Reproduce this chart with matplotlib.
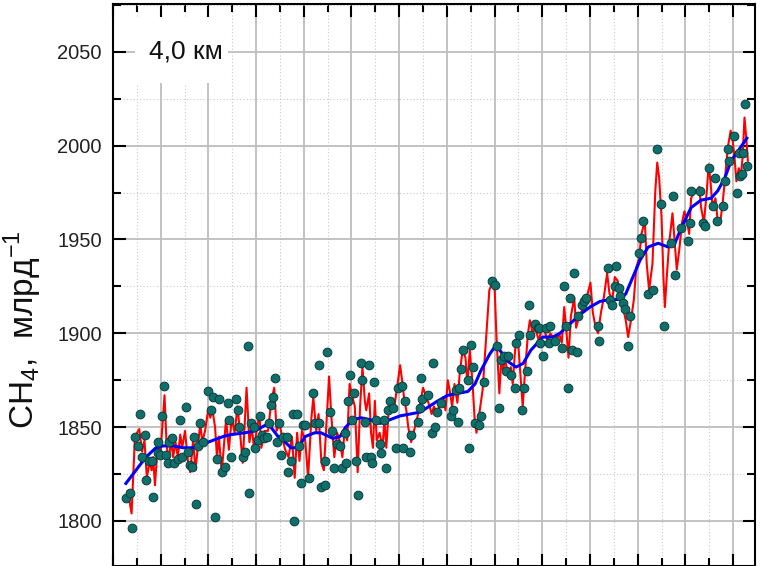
import matplotlib.pyplot as plt
from matplotlib.ticker import MultipleLocator
from matplotlib.patches import Rectangle

plt.rcParams['font.family'] = ['Liberation Sans', 'DejaVu Sans']
plt.rcParams['mathtext.fontset'] = 'custom'
plt.rcParams['mathtext.rm'] = 'Liberation Sans'

# time axis: years since start of record (no tick labels shown on the chart)
dots_t = [0.27, 0.36, 0.40, 0.46, 0.52, 0.57, 0.61, 0.67, 0.69, 0.75, 0.82, 0.84, 0.94, 0.94,
          0.99, 1.03, 1.07, 1.11, 1.15, 1.17, 1.24, 1.28, 1.36, 1.40, 1.45, 1.53, 1.57, 1.61,
          1.66, 1.70, 1.74, 1.78, 1.82, 1.89, 1.99, 2.05, 2.10, 2.14, 2.18, 2.22, 2.29, 2.35,
          2.41, 2.43, 2.47, 2.58, 2.62, 2.64, 2.73, 2.77, 2.83, 2.85, 2.89, 2.96, 2.98, 3.04,
          3.08, 3.12, 3.17, 3.23, 3.27, 3.31, 3.35, 3.40, 3.44, 3.48, 3.52, 3.56, 3.65, 3.67,
          3.73, 3.77, 3.79, 3.86, 3.90, 3.94, 3.98, 4.03, 4.11, 4.19, 4.23, 4.32, 4.32, 4.36,
          4.44, 4.44, 4.49, 4.55, 4.59, 4.63, 4.70, 4.76, 4.80, 4.86, 4.88, 4.93, 4.97, 5.01,
          5.05, 5.09, 5.14, 5.20, 5.22, 5.28, 5.30, 5.37, 5.41, 5.43, 5.47, 5.51, 5.60, 5.62,
          5.68, 5.72, 5.77, 5.81, 5.87, 5.93, 5.97, 6.06, 6.08, 6.12, 6.23, 6.25, 6.39, 6.44,
          6.46, 6.48, 6.60, 6.69, 6.71, 6.75, 6.79, 6.88, 7.09, 7.13, 7.19, 7.23, 7.25, 7.30,
          7.34, 7.44, 7.46, 7.51, 7.55, 7.59, 7.67, 7.71, 7.78, 7.95, 8.01, 8.05, 8.09, 8.13,
          8.20, 8.24, 8.28, 8.34, 8.43, 8.45, 8.51, 8.57, 8.62, 8.68, 8.72, 8.74, 8.85, 8.91,
          8.93, 8.95, 9.01, 9.08, 9.14, 9.16, 9.27, 9.41, 9.45, 9.50, 9.54, 9.58, 9.62, 9.66,
          9.73, 9.75, 9.83, 9.87, 9.92, 10.17, 10.19, 10.38, 10.42, 10.46, 10.52, 10.55, 10.61,
          10.63, 10.69, 10.73, 10.80, 10.84, 11.03, 11.07, 11.11, 11.22, 11.32, 11.40, 11.49,
          11.55, 11.70, 11.74, 11.78, 11.91, 12.05, 12.10, 12.12, 12.31, 12.37, 12.41, 12.49,
          12.58, 12.62, 12.66, 12.79, 12.83, 12.89, 12.91, 13.02, 13.08, 13.12, 13.14, 13.19,
          13.21, 13.25, 13.29]
dots_v = [1812, 1815, 1796, 1845, 1840, 1857, 1834, 1846, 1822, 1832, 1832, 1813, 1842, 1836,
          1835, 1856, 1872, 1835, 1831, 1842, 1844, 1831, 1833, 1854, 1834, 1861, 1837, 1830,
          1829, 1845, 1809, 1840, 1852, 1842, 1869, 1859, 1866, 1802, 1833, 1865, 1826, 1829,
          1863, 1854, 1834, 1865, 1859, 1850, 1834, 1837, 1893, 1815, 1852, 1850, 1839, 1843,
          1856, 1846, 1844, 1845, 1852, 1862, 1866, 1876, 1842, 1852, 1835, 1845, 1845, 1826,
          1832, 1857, 1800, 1857, 1840, 1820, 1851, 1851, 1823, 1868, 1852, 1883, 1852, 1818,
          1819, 1832, 1890, 1858, 1848, 1828, 1841, 1840, 1828, 1847, 1831, 1864, 1878, 1854,
          1868, 1832, 1814, 1884, 1875, 1853, 1834, 1883, 1834, 1831, 1874, 1854, 1841, 1836,
          1854, 1828, 1859, 1864, 1860, 1839, 1871, 1872, 1839, 1864, 1837, 1846, 1853, 1860,
          1876, 1865, 1867, 1847, 1884, 1850, 1858, 1863, 1856, 1859, 1870, 1853, 1871, 1881,
          1891, 1875, 1839, 1894, 1882, 1852, 1851, 1856, 1874, 1928, 1926, 1893, 1860, 1886,
          1888, 1880, 1888, 1878, 1871, 1895, 1899, 1859, 1871, 1880, 1915, 1899, 1905, 1903,
          1903, 1895, 1888, 1903, 1895, 1904, 1896, 1892, 1925, 1904, 1871, 1919, 1891, 1932,
          1890, 1909, 1915, 1917, 1919, 1904, 1896, 1935, 1918, 1915, 1925, 1936, 1924,
          1920, 1916, 1913, 1893, 1909, 1943, 1951, 1960, 1921, 1923, 1998, 1969,
          1904, 1948, 1973, 1931, 1956, 1949, 1959, 1976, 1976, 1959, 1957, 1988,
          1968, 1983, 1960, 1968, 1981, 1998, 1992, 2005, 1975, 1996, 1984, 1985,
          1996, 2022, 1989]

red_t = [0.31, 0.39, 0.46, 0.55, 0.61, 0.66, 0.71, 0.77, 0.81, 0.84, 0.88, 0.94, 0.99, 1.08,
         1.12, 1.16, 1.22, 1.26, 1.31, 1.36, 1.41, 1.45, 1.51, 1.57, 1.62, 1.68, 1.73, 1.80,
         1.83, 1.87, 1.93, 2.00, 2.04, 2.08, 2.14, 2.18, 2.22, 2.28, 2.37, 2.43, 2.49, 2.55,
         2.61, 2.66, 2.72, 2.80, 2.86, 2.91, 2.96, 3.01, 3.07, 3.11, 3.18, 3.25, 3.32, 3.38,
         3.43, 3.49, 3.56, 3.61, 3.68, 3.75, 3.81, 3.86, 3.91, 3.96, 4.03, 4.09, 4.16, 4.20,
         4.26, 4.31, 4.37, 4.42, 4.50, 4.53, 4.58, 4.64, 4.70, 4.75, 4.81, 4.86, 4.91, 4.96,
         5.02, 5.07, 5.13, 5.18, 5.23, 5.28, 5.31, 5.37, 5.41, 5.45, 5.49, 5.53, 5.59, 5.65,
         5.69, 5.73, 5.79, 5.84, 5.90, 5.95, 6.02, 6.06, 6.11, 6.15, 6.19, 6.25, 6.30, 6.37,
         6.43, 6.50, 6.57, 6.64, 6.68, 6.73, 6.79, 6.86, 6.92, 6.97, 7.02, 7.07, 7.11, 7.16,
         7.22, 7.27, 7.33, 7.39, 7.43, 7.48, 7.54, 7.58, 7.62, 7.69, 7.75, 7.83, 7.89, 7.95,
         8.00, 8.04, 8.10, 8.14, 8.18, 8.22, 8.28, 8.34, 8.38, 8.43, 8.48, 8.53, 8.59, 8.64,
         8.70, 8.74, 8.80, 8.85, 8.93, 8.99, 9.04, 9.11, 9.17, 9.22, 9.28, 9.35, 9.41, 9.46,
         9.50, 9.55, 9.60, 9.67, 9.71, 9.77, 9.83, 9.90, 9.95, 10.01, 10.06, 10.12, 10.17,
         10.23, 10.29, 10.36, 10.41, 10.47, 10.52, 10.58, 10.63, 10.69, 10.75, 10.80, 10.86,
         10.92, 10.97, 11.03, 11.08, 11.15, 11.19, 11.24, 11.31, 11.37, 11.41, 11.45, 11.50,
         11.54, 11.57, 11.61, 11.66, 11.73, 11.77, 11.82, 11.87, 11.93, 11.98, 12.04, 12.08,
         12.12, 12.18, 12.24, 12.29, 12.33, 12.39, 12.45, 12.49, 12.53, 12.57, 12.63, 12.67,
         12.73, 12.78, 12.84, 12.89, 12.95, 12.99, 13.03, 13.07, 13.12, 13.16, 13.20, 13.24,
         13.28, 13.31]
red_v = [1816, 1804, 1845, 1849, 1837, 1843, 1823, 1832, 1827, 1834, 1819, 1842, 1834, 1867,
         1843, 1831, 1843, 1834, 1842, 1834, 1846, 1839, 1848, 1832, 1826, 1843, 1827, 1845,
         1852, 1842, 1848, 1860, 1855, 1860, 1850, 1834, 1845, 1826, 1854, 1838, 1855, 1847,
         1861, 1848, 1831, 1871, 1842, 1850, 1838, 1848, 1857, 1839, 1848, 1848, 1864, 1871,
         1848, 1852, 1843, 1838, 1834, 1845, 1823, 1847, 1832, 1848, 1843, 1823, 1855, 1866,
         1848, 1857, 1831, 1827, 1864, 1877, 1855, 1834, 1847, 1843, 1834, 1850, 1843, 1873,
         1866, 1861, 1826, 1861, 1882, 1864, 1859, 1868, 1847, 1839, 1864, 1843, 1847, 1839,
         1854, 1839, 1863, 1859, 1861, 1870, 1883, 1875, 1864, 1859, 1850, 1842, 1847, 1854,
         1861, 1871, 1866, 1861, 1857, 1861, 1857, 1863, 1866, 1859, 1875, 1868, 1861, 1873,
         1863, 1879, 1891, 1887, 1873, 1891, 1873, 1855, 1847, 1859, 1870, 1900, 1923, 1927,
         1925, 1898, 1868, 1886, 1880, 1887, 1877, 1882, 1873, 1891, 1900, 1882, 1861, 1880,
         1900, 1907, 1900, 1903, 1896, 1903, 1902, 1896, 1900, 1898, 1895, 1900, 1895, 1914,
         1903, 1887, 1909, 1919, 1903, 1909, 1912, 1918, 1921, 1927, 1911, 1903, 1900,
         1911, 1919, 1932, 1921, 1918, 1930, 1928, 1921, 1914, 1907, 1898, 1907,
         1918, 1935, 1940, 1953, 1960, 1937, 1923, 1937, 1976, 1991, 1983, 1962,
         1930, 1914, 1930, 1948, 1964, 1951, 1934, 1944, 1959, 1965, 1959, 1953,
         1972, 1975, 1976, 1978, 1967, 1959, 1976, 1990, 1980, 1967, 1972, 1962,
         1959, 1969, 1985, 1999, 2008, 2003, 1994, 1981, 1988, 1983, 1994, 2015,
         2003, 1992]

blue_t = [0.27, 0.48, 0.69, 0.90, 1.05, 1.26, 1.47, 1.68, 1.89, 2.10, 2.31, 2.47, 2.77, 2.98,
          3.19, 3.31, 3.46, 3.61, 3.73, 3.88, 4.03, 4.23, 4.36, 4.61, 4.76, 4.88, 5.03, 5.20,
          5.39, 5.60, 5.81, 6.02, 6.23, 6.44, 6.81, 7.02, 7.23, 7.44, 7.59, 7.71, 7.90, 8.01,
          8.11, 8.28, 8.45, 8.60, 8.76, 9.01, 9.22, 9.37, 9.58, 9.79, 10.00, 10.21, 10.42,
          10.63, 10.75, 10.90, 11.05, 11.22, 11.43, 11.64, 11.78, 11.91, 12.12, 12.33, 12.54,
          12.68, 12.83, 12.96, 13.10, 13.29]
blue_v = [1820, 1827, 1834, 1839, 1840, 1840, 1839, 1839, 1841, 1843, 1845, 1846, 1847, 1848,
          1851, 1850, 1845, 1842, 1839, 1839, 1845, 1847, 1847, 1844, 1845, 1850, 1854, 1855,
          1854, 1852, 1854, 1856, 1857, 1858, 1864, 1867, 1868, 1869, 1873, 1880, 1889, 1893,
          1891, 1885, 1882, 1884, 1891, 1898, 1898, 1900, 1905, 1910, 1914, 1917, 1918,
          1918, 1921, 1930, 1939, 1946, 1948, 1946, 1948, 1956, 1967, 1971, 1972,
          1976, 1983, 1992, 1997, 2004]

fig = plt.figure(figsize=(7.67, 5.66), dpi=100)
ax = fig.add_axes([113 / 767, 0.0, 642 / 767, 562 / 566])

ax.plot(red_t, red_v, color='#ff0000', lw=1.5, zorder=3)
ax.plot(blue_t, blue_v, color='#0000ff', lw=2.2, zorder=4)
ax.plot(dots_t, dots_v, 'o', ms=6.3, mfc='#0f6f6a', mec='#0a3d3d', mew=0.7, zorder=5)

ax.set_xlim(0, 13.46)
ax.set_ylim(1776, 2075.5)
ax.xaxis.set_major_locator(MultipleLocator(1))
ax.xaxis.set_minor_locator(MultipleLocator(0.5))
ax.yaxis.set_major_locator(MultipleLocator(50))
ax.yaxis.set_minor_locator(MultipleLocator(25))

ax.set_axisbelow(True)
ax.grid(which='major', color='#bdbdbd', lw=1.3, ls='-')
ax.grid(which='minor', color='#c8c8c8', lw=0.8, ls=(0, (1, 2)))

ax.tick_params(which='both', direction='in', top=True, right=True, width=1.5,
               labelbottom=False, color='black')
ax.tick_params(which='major', length=9)
ax.tick_params(which='minor', length=6)
ax.tick_params(axis='y', labelsize=14.5, pad=8, labelcolor='#222222')
for sp in ax.spines.values():
    sp.set_linewidth(1.5)

# white patch behind the altitude label
ax.add_patch(Rectangle((0.034, 0.859), 0.145, 0.118, transform=ax.transAxes,
                       facecolor='white', edgecolor='none', zorder=1))
ax.text(0.056, 0.915, '4,0 км', transform=ax.transAxes, fontsize=19,
        ha='left', va='center', color='#111111', zorder=6)

ax.set_ylabel(r'CH$_{\mathrm{4}}$,  млрд$^{\mathrm{-1}}$', fontsize=24, color='#111111')
ax.yaxis.set_label_coords(-0.108, 0.42)

fig.savefig('out.png', dpi=100)
